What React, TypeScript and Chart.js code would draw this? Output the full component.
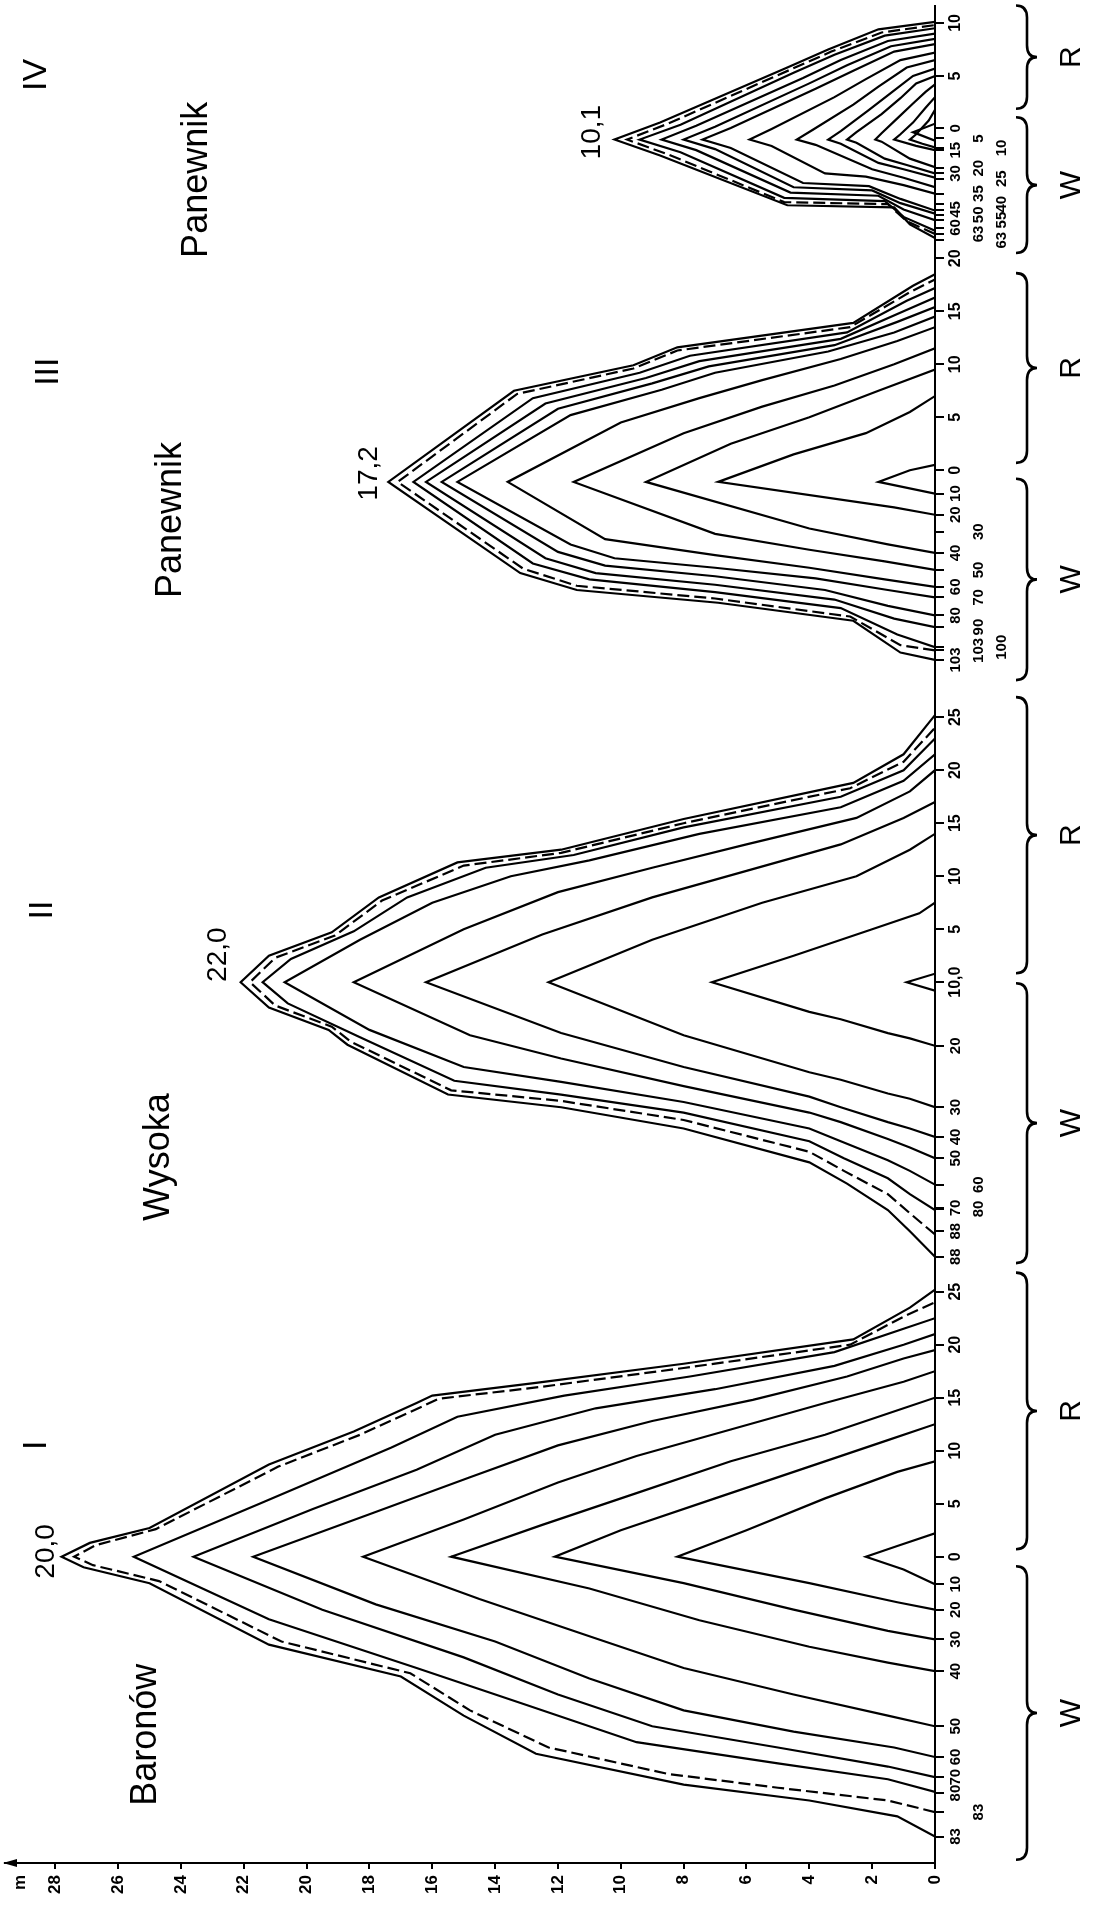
import { useEffect, useRef } from 'react';
import { Chart, registerables } from 'chart.js';

Chart.register(...registerables);

const CANVAS_W = 1094;
const CANVAS_H = 1910;

// ---- value axis: height in metres (drawn horizontally, 0 at the right) ----
const heightTicks = [0, 2, 4, 6, 8, 10, 12, 14, 16, 18, 20, 22, 24, 26, 28];
const heightUnitAt = 29.1;
const heightAxisMax = 29.6;

// ---- position axis: metres along the drawing (bottom = 0) ----
const positionAxisMax = 175.2;

// ---- sections ----
const sectionNumerals = ['I', 'II', 'III', 'IV'];
const sectionNames = ['Baronów', 'Wysoka', 'Panewnik', 'Panewnik'];
const sectionOrigins = [28.9, 83.1, 131.4, 163.6];
const peakLabels = ['20,0', '22,0', '17,2', '10,1'];

// profile lines, flat [position, height, position, height, ...], W side negative, R side positive
const secI: number[][] = [
  [-26.4, 0, -24.5, 1.2, -23, 4, -21.5, 8, -18.6, 12.7, -15, 15, -11.3, 17, -8.3, 21.2, -2.5, 25, -1, 27.1, 0, 27.8, 1.3, 26.9, 2.7, 25, 8.7, 21.2, 11.8, 18.5, 14.5, 16.5, 15.2, 16, 16.4, 12.7, 18.2, 8, 20.5, 2.6, 23.5, 0.8, 25.2, 0],
  [-24.1, 0, -23, 1.5, -21.8, 5, -20.5, 8.5, -18, 12.3, -14.5, 14.8, -11, 16.7, -8, 20.8, -2.3, 24.7, -0.8, 26.8, 0, 27.4, 1.1, 26.7, 2.6, 24.8, 8.5, 20.9, 11.5, 18.3, 14.2, 16.3, 14.9, 15.8, 16, 12.6, 17.8, 8, 20, 2.7, 22.8, 0.9, 24, 0],
  [-22.2, 0, -21, 1.5, -19.5, 5, -17.5, 9.5, -14, 13, -10.5, 16.5, -5.9, 21.2, 0, 25.5, 5, 21.5, 10.3, 17.3, 13.2, 15.2, 15.2, 11.8, 17, 7.8, 19.3, 3.2, 21.5, 1, 22.5, 0],
  [-20.8, 0, -19.8, 1.5, -18, 5, -16, 9, -13, 12, -9.5, 15, -5, 19.5, 0, 23.6, 4.5, 19.8, 8.2, 16.5, 11.5, 14, 14, 10.8, 15.8, 7, 18, 3.2, 20, 1, 21, 0],
  [-18.9, 0, -18, 1.3, -16.5, 4.5, -14.5, 8, -11.5, 11, -8, 14, -4.5, 17.8, 0, 21.7, 4, 18, 7.5, 14.8, 10.5, 12, 12.8, 9, 14.8, 5.8, 17, 2.8, 18.7, 1, 19.5, 0],
  [-16, 0, -15, 1.5, -13, 4.5, -10.5, 8, -7.5, 11, -4, 14.5, 0, 18.2, 3.5, 15, 7, 12, 9.5, 9.5, 12, 6.5, 14.5, 3.5, 16.5, 1, 17.5, 0],
  [-10.8, 0, -10, 1.5, -8.5, 4, -6, 7.5, -3, 11, 0, 15.4, 3, 12.5, 6, 9.5, 9, 6.5, 11.5, 3.5, 14, 1, 15, 0],
  [-7.8, 0, -7, 1.5, -5, 4.5, -2.5, 8, 0, 12.1, 2.5, 10, 5.5, 7, 8.5, 4, 11, 1.5, 12.5, 0],
  [-5, 0, -4.3, 1.2, -2.5, 4, 0, 8.2, 2.5, 6, 5.5, 3.5, 8, 1.2, 9, 0],
  [-2.6, 0, -1.2, 1, 0, 2.2, 1, 1.2, 2.2, 0],
];

const secII: number[][] = [
  [-25.9, 0, -23.5, 0.8, -21.5, 1.5, -19, 2.8, -17, 4, -13.8, 8, -11.8, 11.9, -10.6, 15.5, -5.9, 18.7, -4.5, 19.3, -2.4, 21.2, 0, 22.1, 2.5, 21.2, 4.7, 19.2, 8, 17.7, 11.3, 15.2, 12.5, 11.9, 15.4, 8, 18.8, 2.6, 21.5, 1, 25.2, 0],
  [-23.8, 0, -21.8, 0.8, -20, 1.5, -17.8, 2.9, -16, 4, -13, 8, -11.2, 11.9, -10.2, 15.4, -5.6, 18.6, -4.2, 19.2, -2.2, 21, 0, 21.8, 2.3, 21, 4.4, 19.1, 7.7, 17.6, 11, 15, 12.2, 11.9, 15, 8, 18.3, 2.7, 20.8, 1, 24, 0],
  [-21.5, 0, -20, 0.8, -18.5, 1.5, -16.6, 2.9, -15, 4, -12.3, 8, -10.6, 11.9, -9.3, 15.3, -5.2, 18.3, -2, 20.6, 0, 21.4, 2.2, 20.5, 4.8, 18.5, 8, 16.8, 10.8, 14.3, 12, 11.5, 14.6, 8, 17.5, 3, 20, 1, 23, 0],
  [-19.1, 0, -17.8, 0.8, -16.8, 1.5, -15, 3, -13.8, 4, -11.3, 8, -9.4, 11.9, -8, 15, -4.5, 18, 0, 20.7, 4, 18.3, 7.5, 16, 10, 13.5, 11.5, 11, 14, 7.5, 16.5, 3, 19, 1, 21.5, 0],
  [-16.6, 0, -15.6, 0.8, -14.8, 1.5, -13.2, 3, -12.3, 4, -9.8, 8, -7.2, 11.9, -5, 14.8, 0, 18.5, 5, 15, 8.5, 12, 10.8, 9, 13, 6, 15.5, 2.5, 18, 0.8, 20, 0],
  [-14.6, 0, -13.8, 0.8, -13.2, 1.5, -11.8, 3, -10.8, 4, -8, 8, -4.8, 11.9, 0, 16.2, 4.5, 12.5, 8, 9, 10.5, 6, 13, 3, 15.5, 1, 17, 0],
  [-11.8, 0, -11, 0.8, -10.5, 1.5, -9.2, 3, -8.5, 4, -5, 8, 0, 12.3, 4, 9, 7.5, 5.5, 10, 2.5, 12.5, 0.8, 14, 0],
  [-6, 0, -5.3, 0.8, -4.8, 1.5, -3.5, 3, -2.8, 4, 0, 7.1, 2.5, 4.5, 5, 2, 6.5, 0.5, 7.5, 0],
  [-0.8, 0, 0, 0.9, 0.8, 0],
];

const secIII: number[][] = [
  [-17.9, 0, -17.2, 1.1, -14.2, 2.6, -12.5, 6.9, -11.3, 11.4, -9.7, 13.2, -1.1, 17.4, 7.5, 13.4, 9.9, 9.6, 11.6, 8.2, 13.9, 2.6, 17.4, 0.7, 18.5, 0],
  [-17, 0, -16.5, 1.1, -13.8, 2.7, -12.1, 7, -10.9, 11.4, -9.3, 13.1, -1.1, 17.1, 7.2, 13.3, 9.6, 9.6, 11.3, 8.2, 13.5, 2.7, 16.8, 0.8, 18, 0],
  [-16.7, 0, -15.5, 1.2, -13, 3, -11.5, 7, -10.3, 11, -8.8, 12.8, -1.1, 16.6, 6.8, 12.8, 9.2, 9.4, 10.8, 7.8, 13, 2.8, 16, 0.9, 17.2, 0],
  [-14.8, 0, -14, 1.3, -12.2, 3.2, -10.8, 7, -9.7, 10.8, -8.3, 12.4, -1.1, 16.2, 6.3, 12.4, 8.7, 9.2, 10.3, 7.5, 12.4, 3, 15, 1, 16.3, 0],
  [-13.7, 0, -12.8, 1.5, -11.3, 3.5, -10, 7, -9, 10.5, -7.7, 12, -1.1, 15.7, 5.8, 12, 8.2, 9, 9.8, 7.2, 11.8, 3.2, 14, 1.2, 15.4, 0],
  [-12, 0, -11.3, 1.5, -10.2, 3.8, -9.2, 7, -8.3, 10.2, -7, 11.6, -1.1, 15.2, 5.2, 11.6, 7.6, 8.7, 9.2, 7, 11.2, 3.4, 13, 1.3, 14.5, 0],
  [-11, 0, -10.3, 1.6, -9.2, 4, -8, 7, -6.5, 10.5, -1.1, 13.6, 4.5, 10, 6.8, 7.5, 8.5, 5.5, 10.5, 3, 12.2, 1.2, 13.5, 0],
  [-9.4, 0, -8.6, 1.6, -7.5, 4, -6, 7, -1.1, 11.5, 3.5, 8, 6, 5.5, 8, 3.2, 10, 1.3, 11.5, 0],
  [-7.8, 0, -7, 1.5, -5.5, 4, -1.1, 9.2, 2.5, 6.5, 5, 4, 7.5, 1.8, 9.5, 0],
  [-4.2, 0, -3.5, 1.3, -1.1, 6.9, 1.5, 4.5, 3.5, 2.2, 5.5, 0.8, 7, 0],
  [-2.2, 0, -1.1, 1.8, 0, 0.8, 0.5, 0],
];

const secIV: number[][] = [
  [-10.3, 0, -9, 0.8, -7.4, 1.3, -7.2, 4.7, -2.5, 8.75, -1, 10.2, 0.6, 8.75, 5.8, 4.7, 7.5, 3.4, 9.4, 1.8, 10.1, 0],
  [-9.9, 0, -8.7, 0.9, -7.1, 1.5, -6.9, 4.8, -2.4, 8.5, -1, 9.8, 0.5, 8.5, 5.6, 4.6, 7.3, 3.3, 9.1, 1.7, 9.8, 0],
  [-9.6, 0, -8.3, 1, -6.8, 1.6, -6.5, 4.8, -2.2, 8.1, -1, 9.4, 0.4, 8.1, 5.3, 4.5, 7, 3.2, 8.8, 1.6, 9.5, 0],
  [-8.6, 0, -7.6, 1, -6.3, 1.8, -6, 4.6, -2, 7.6, -1, 8.7, 0.3, 7.6, 4.8, 4.2, 6.5, 3, 8.3, 1.5, 9, 0],
  [-8, 0, -7, 1.1, -5.8, 2, -5.5, 4.5, -1.9, 7, -1, 8, 0.2, 7, 4.3, 4, 6, 2.8, 7.8, 1.4, 8.5, 0],
  [-7.7, 0, -6.6, 1.1, -5.4, 2.1, -5.1, 4.2, -1.8, 6.5, -1, 7.4, 0.1, 6.5, 3.8, 3.8, 5.5, 2.6, 7.3, 1.3, 8, 0],
  [-6.1, 0, -5.3, 1, -4.5, 2.2, -4.2, 3.5, -1.6, 5.2, -1, 5.9, 0, 5.2, 3, 3.2, 4.7, 2.2, 6.5, 1.1, 7.2, 0],
  [-5.5, 0, -4.6, 1, -3.8, 2, -1.5, 3.8, -1, 4.4, -0.1, 3.9, 2.3, 2.6, 4, 1.8, 5.8, 0.9, 6.5, 0],
  [-4.6, 0, -3.8, 1, -3.2, 1.8, -1.4, 3, -1, 3.4, -0.2, 3, 1.8, 2.1, 3.4, 1.4, 5, 0.7, 5.7, 0],
  [-4.2, 0, -3.4, 0.9, -2.8, 1.6, -1.3, 2.5, -1, 2.8, -0.3, 2.5, 1.4, 1.7, 2.9, 1.1, 4.3, 0.6, 5, 0],
  [-3.6, 0, -2.8, 0.8, -1.2, 1.7, -1, 1.9, -0.4, 1.7, 1, 1.2, 2.4, 0.7, 3.5, 0.3, 4.2, 0],
  [-2, 0, -1.6, 0.6, -1, 1.3, -0.5, 1.1, 0.6, 0.7, 2, 0.3, 3, 0],
  [-1.75, 0, -1.4, 0.4, -1, 0.8, -0.5, 0.6, 0.8, 0.2, 1.8, 0],
  [-1.1, 0, -0.3, 0.7, 0.5, 0],
];

const sectionLines = [secI, secII, secIII, secIV];

// R side distance ticks (m)
const secI_R = [0, 5, 10, 15, 20, 25];
const secII_R = [0, 5, 10, 15, 20, 25];
const secIII_R = [0, 5, 10, 15, 20];
const secIV_R = [5, 10];
const sectionRTicks = [secI_R, secII_R, secIII_R, secIV_R];
const secII_RLabels = ['10,0', '5', '10', '15', '20', '25'];

// W side labels: [text, position, row]
const secI_W: [string, number, number][] = [
  ['10', -2.6, 0], ['20', -5, 0], ['30', -7.8, 0], ['40', -10.8, 0], ['50', -16, 0],
  ['60', -18.9, 0], ['70', -20.8, 0], ['80', -22.3, 0], ['83', -24.1, 1], ['83', -26.4, 0],
];
const secII_W: [string, number, number][] = [
  ['20', -6, 0], ['30', -11.8, 0], ['40', -14.6, 0], ['50', -16.6, 0], ['60', -19.1, 1],
  ['70', -21.3, 0], ['80', -21.4, 1], ['88', -23.5, 0], ['88', -25.9, 0],
];
const secIII_W: [string, number, number][] = [
  ['10', -2.2, 0], ['20', -4.2, 0], ['30', -5.8, 1], ['40', -7.8, 0], ['50', -9.4, 1],
  ['60', -11, 0], ['70', -12, 1], ['80', -13.7, 0], ['90', -14.8, 1], ['100', -16.7, 2],
  ['103', -17, 1], ['103', -17.9, 0],
];
const secIV_W: [string, number, number][] = [
  ['0', 0.05, 0], ['15', -2, 0], ['30', -4.2, 0], ['45', -7.6, 0], ['60', -9.3, 0],
  ['5', -0.9, 1], ['20', -3.7, 1], ['35', -6.1, 1], ['50', -8.1, 1], ['63', -9.9, 1],
  ['10', -1.8, 2], ['25', -4.7, 2], ['40', -7.1, 2], ['55', -8.6, 2], ['63', -10.5, 2],
];
const sectionWLabels = [secI_W, secII_W, secIII_W, secIV_W];

// braces: [from, to] positions for R and W groups
const secBracesR = [[0.7, 26.8], [0.85, 26.9], [0.7, 18.6], [1.9, 11.65]];
const secBracesW = [[-0.9, -28.6], [-0.1, -26.5], [-0.8, -19.8], [1.1, -11.7]];

// annotation anchors: [height m, position relative to section origin]
const peakLabelAt = [[28.3, 0.5], [22.8, 2.6], [18.0, -0.3], [10.9, -0.3]];
const nameAt = [[25.1, -16.8], [24.7, -16.5], [24.3, -4.7], [23.5, -4.8]];
const numeralAt = [[28.6, 10.5], [28.4, 6.8], [28.2, 9.3], [28.6, 5.1]];

const FONT = "'Liberation Sans', 'DejaVu Sans', Arial, sans-serif";

function vText(ctx: CanvasRenderingContext2D, text: string, x: number, y: number, font: string) {
  ctx.save();
  ctx.translate(x, y);
  ctx.rotate(-Math.PI / 2);
  ctx.font = font;
  ctx.textAlign = 'center';
  ctx.textBaseline = 'middle';
  ctx.fillStyle = '#000';
  ctx.fillText(text, 0, 0);
  ctx.restore();
}

function brace(ctx: CanvasRenderingContext2D, x: number, y1: number, y2: number) {
  const top = Math.min(y1, y2);
  const bot = Math.max(y1, y2);
  const mid = (top + bot) / 2;
  const xs = x - 11;
  const xb = x + 10;
  const r = Math.min(12, (bot - top) / 6);
  ctx.beginPath();
  ctx.moveTo(xs, top);
  ctx.quadraticCurveTo(x, top, x, top + r);
  ctx.lineTo(x, mid - r);
  ctx.quadraticCurveTo(x, mid, xb, mid);
  ctx.quadraticCurveTo(x, mid, x, mid + r);
  ctx.lineTo(x, bot - r);
  ctx.quadraticCurveTo(x, bot, xs, bot);
  ctx.stroke();
}

const decorations = {
  id: 'decorations',
  afterDraw(chart: any) {
    const ctx: CanvasRenderingContext2D = chart.ctx;
    const xs = chart.scales.x;
    const ys = chart.scales.y;
    const base = chart.chartArea.right;
    const bottom = chart.chartArea.bottom;
    ctx.save();
    ctx.fillStyle = '#000';
    ctx.strokeStyle = '#000';

    const ax = chart.chartArea.left;
    ctx.beginPath();
    ctx.moveTo(ax - 2, bottom);
    ctx.lineTo(ax + 12, bottom - 4);
    ctx.lineTo(ax + 12, bottom + 4);
    ctx.closePath();
    ctx.fill();

    sectionOrigins.forEach((origin, i) => {
      const py = (p: number) => ys.getPixelForValue(origin + p);
      sectionRTicks[i].forEach((v, k) => {
        const label = i === 1 ? secII_RLabels[k] : String(v);
        vText(ctx, label, base + 21, py(v), `bold 16px ${FONT}`);
      });
      sectionWLabels[i].forEach(([t, p, row]) => {
        vText(ctx, t, base + 21 + row * 23, py(p), `bold 15px ${FONT}`);
      });
      ctx.lineWidth = 2.6;
      const [r1, r2] = secBracesR[i];
      const [w1, w2] = secBracesW[i];
      brace(ctx, base + 92, py(r1), py(r2));
      brace(ctx, base + 92, py(w1), py(w2));
      vText(ctx, 'R', base + 137, (py(r1) + py(r2)) / 2, `30px ${FONT}`);
      vText(ctx, 'W', base + 137, (py(w1) + py(w2)) / 2, `30px ${FONT}`);
      const [ph, pp] = peakLabelAt[i];
      vText(ctx, peakLabels[i], xs.getPixelForValue(ph), py(pp), `28px ${FONT}`);
      const [nh, np] = nameAt[i];
      vText(ctx, sectionNames[i], xs.getPixelForValue(nh), py(np), `36px ${FONT}`);
      const [mh, mp] = numeralAt[i];
      vText(ctx, sectionNumerals[i], xs.getPixelForValue(mh), py(mp), `34px ${FONT}`);
    });
    ctx.restore();
  },
};

export default function App() {
  const ref = useRef<HTMLCanvasElement | null>(null);
  useEffect(() => {
    document.body.style.margin = '0';
    const canvas = ref.current!;
    const datasets: any[] = [];
    sectionLines.forEach((lines, si) => {
      lines.forEach((flat, li) => {
        const pts: { x: number; y: number }[] = [];
        for (let k = 0; k < flat.length; k += 2) {
          pts.push({ x: flat[k + 1], y: sectionOrigins[si] + flat[k] });
        }
        datasets.push({
          data: pts,
          showLine: true,
          borderColor: '#000',
          borderWidth: 2.2,
          pointRadius: 0,
          tension: 0,
          fill: false,
          borderDash: li === 1 ? [12, 5] : [],
        });
      });
    });
    const yTicks: number[] = [];
    sectionOrigins.forEach((o, i) => {
      sectionRTicks[i].forEach((v) => yTicks.push(o + v));
      sectionWLabels[i].forEach(([, p]) => yTicks.push(o + p));
    });
    const chart = new Chart(canvas, {
      type: 'scatter',
      data: { datasets },
      options: {
        animation: false,
        responsive: false,
        devicePixelRatio: 1,
        events: [],
        layout: { padding: { left: 5, top: 6, right: 159, bottom: 0 } },
        plugins: { legend: { display: false }, tooltip: { enabled: false } },
        scales: {
          x: {
            type: 'linear',
            reverse: true,
            min: 0,
            max: heightAxisMax,
            afterBuildTicks: (s: any) => {
              s.ticks = [...heightTicks, heightUnitAt].map((v) => ({ value: v }));
            },
            afterFit: (s: any) => {
              s.height = 47;
            },
            ticks: {
              autoSkip: false,
              minRotation: 90,
              maxRotation: 90,
              padding: 6,
              color: '#000',
              font: { family: FONT, size: 17, weight: 'bold' },
              callback: (v: any) => (Number(v) > 28.5 ? 'm' : String(v)),
            },
            grid: {
              drawOnChartArea: false,
              drawTicks: true,
              tickLength: 6,
              lineWidth: 2,
              color: (c: any) => (c.tick && c.tick.value > 28.5 ? 'rgba(0,0,0,0)' : '#000'),
            },
            border: { display: true, color: '#000', width: 2 },
          },
          y: {
            type: 'linear',
            position: 'right',
            min: 0,
            max: positionAxisMax,
            afterBuildTicks: (s: any) => {
              s.ticks = yTicks.map((v) => ({ value: v }));
            },
            afterFit: (s: any) => {
              s.width = 0;
            },
            ticks: { display: false },
            grid: { drawOnChartArea: false, drawTicks: true, tickLength: 9, lineWidth: 2, color: '#000' },
            border: { display: true, color: '#000', width: 2 },
          },
        },
      },
      plugins: [decorations],
    } as any);
    return () => chart.destroy();
  }, []);
  return (
    <div style={{ position: 'absolute', left: 0, top: 0, width: CANVAS_W, height: CANVAS_H, background: '#fff' }}>
      <canvas ref={ref} width={CANVAS_W} height={CANVAS_H} style={{ display: 'block' }} />
    </div>
  );
}
